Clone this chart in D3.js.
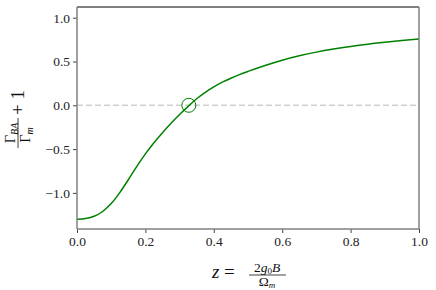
<!DOCTYPE html>
<html>
<head>
<meta charset="utf-8">
<script src="https://cdn.jsdelivr.net/npm/d3@7"></script>
<style>
  body { margin: 0; background: #fff; }
  svg text { font-family: "Liberation Serif", "DejaVu Serif", serif; }
</style>
</head>
<body>
<svg id="chart" width="436" height="290"></svg>
<script>
"use strict";

// values
const zValues = [0, 0.025, 0.05, 0.075, 0.1, 0.125, 0.15, 0.175, 0.2, 0.225, 0.25, 0.275,
    0.3, 0.325, 0.35, 0.375, 0.4, 0.425, 0.45, 0.475, 0.5, 0.55, 0.6, 0.65, 0.7, 0.75, 0.8, 0.85, 0.9, 0.95, 1.0];
const rateValues = [-1.30, -1.292, -1.267, -1.212, -1.122, -0.997, -0.85, -0.697, -0.555, -0.427, -0.312, -0.205,
    -0.105, -0.012, 0.075, 0.148, 0.21, 0.264, 0.309, 0.35, 0.387, 0.455, 0.515, 0.565, 0.607, 0.642, 0.672,
    0.698, 0.72, 0.74, 0.757];
const crossing = [{ z: 0.327, v: 0 }];
const xTicks = [0, 0.2, 0.4, 0.6, 0.8, 1.0];
const yTicks = [-1.0, -0.5, 0.0, 0.5, 1.0];

const svg = d3.select("#chart");
const pLeft = 77, pRight = 419, pTop = 7, pBottom = 229;

const x = d3.scaleLinear().domain([0, 1]).range([pLeft, pRight]);
const y = d3.scaleLinear().domain([-1.412, 1.122]).range([pBottom, pTop]);

const fmt = (d) => d3.format(".1f")(d).replace("-", "\u2212");

// zero reference line
svg.append("line")
    .attr("x1", x(0)).attr("x2", x(1))
    .attr("y1", y(0)).attr("y2", y(0))
    .attr("stroke", "#cfcfcf")
    .attr("stroke-width", 1.5)
    .attr("stroke-dasharray", "6,3");

// curve
const data = zValues.map((z, i) => ({ z: z, v: rateValues[i] }));
svg.append("path")
    .datum(data)
    .attr("fill", "none")
    .attr("stroke", "#008000")
    .attr("stroke-width", 1.5)
    .attr("d", d3.line().x(d => x(d.z)).y(d => y(d.v)).curve(d3.curveMonotoneX));

svg.selectAll(".mark")
    .data(crossing)
    .enter().append("circle")
    .attr("class", "mark")
    .attr("cx", d => x(d.z))
    .attr("cy", d => y(d.v))
    .attr("r", 7)
    .attr("fill", "none")
    .attr("stroke", "#008000")
    .attr("stroke-width", 1);

// axes
const xAxis = svg.append("g")
    .attr("transform", `translate(0,${pBottom})`)
    .call(d3.axisBottom(x).tickValues(xTicks).tickFormat(fmt).tickSizeOuter(0).tickSize(4).tickPadding(3));
const yAxis = svg.append("g")
    .attr("transform", `translate(${pLeft},0)`)
    .call(d3.axisLeft(y).tickValues(yTicks).tickFormat(fmt).tickSizeOuter(0).tickSize(4).tickPadding(3));

[xAxis, yAxis].forEach((a) => {
    a.select(".domain").remove();
    a.selectAll("line").attr("stroke", "#444").attr("stroke-width", 1);
    a.selectAll("text")
        .attr("font-family", "'Liberation Serif', serif")
        .attr("font-size", 13.5)
        .attr("fill", "#222");
});

// spines
svg.append("line").attr("x1", pLeft).attr("x2", pRight).attr("y1", pTop).attr("y2", pTop)
    .attr("stroke", "#000").attr("stroke-width", 1);
svg.append("line").attr("x1", pLeft).attr("x2", pRight).attr("y1", pBottom).attr("y2", pBottom)
    .attr("stroke", "#808080").attr("stroke-width", 1.5);
svg.append("line").attr("x1", pLeft).attr("x2", pLeft).attr("y1", pTop).attr("y2", pBottom)
    .attr("stroke", "#808080").attr("stroke-width", 1.5);
svg.append("line").attr("x1", pRight).attr("x2", pRight).attr("y1", pTop).attr("y2", pBottom)
    .attr("stroke", "#808080").attr("stroke-width", 1.5);

// x label: z = 2 g0 B / Omega_m
const xl = svg.append("g").attr("fill", "#111");
xl.append("text").attr("x", 212).attr("y", 278).attr("font-size", 19)
    .attr("font-style", "italic").text("z");
xl.append("text").attr("x", 224).attr("y", 278).attr("font-size", 19).text("=");
const num = xl.append("text").attr("x", 267).attr("y", 272).attr("font-size", 13.5)
    .attr("text-anchor", "middle");
num.append("tspan").text("2");
num.append("tspan").attr("font-style", "italic").text("g");
num.append("tspan").attr("font-size", 9).attr("dy", 2).text("0");
num.append("tspan").attr("font-style", "italic").attr("dy", -2).text("B");
xl.append("line").attr("x1", 249).attr("x2", 286).attr("y1", 275).attr("y2", 275)
    .attr("stroke", "#111").attr("stroke-width", 0.8);
const den = xl.append("text").attr("x", 267).attr("y", 286).attr("font-size", 13.5)
    .attr("text-anchor", "middle");
den.append("tspan").text("\u03A9");
den.append("tspan").attr("font-size", 9).attr("font-style", "italic").attr("dy", 2).text("m");

// y label: Gamma_BA / Gamma_m + 1 (rotated)
const yl = svg.append("g").attr("transform", "translate(18,148) rotate(-90)").attr("fill", "#111");
const yn = yl.append("text").attr("x", 15).attr("y", -3).attr("font-size", 14.5)
    .attr("text-anchor", "middle");
yn.append("tspan").text("\u0393");
yn.append("tspan").attr("font-size", 10).attr("font-style", "italic").attr("dy", 3).text("BA");
yl.append("line").attr("x1", 0).attr("x2", 30).attr("y1", 0).attr("y2", 0)
    .attr("stroke", "#111").attr("stroke-width", 0.8);
const yd = yl.append("text").attr("x", 13).attr("y", 12).attr("font-size", 14.5)
    .attr("text-anchor", "middle");
yd.append("tspan").text("\u0393");
yd.append("tspan").attr("font-size", 10).attr("font-style", "italic").attr("dy", 3).text("m");
yl.append("text").attr("x", 33).attr("y", 6).attr("font-size", 19).text("+ 1");
</script>
</body>
</html>
